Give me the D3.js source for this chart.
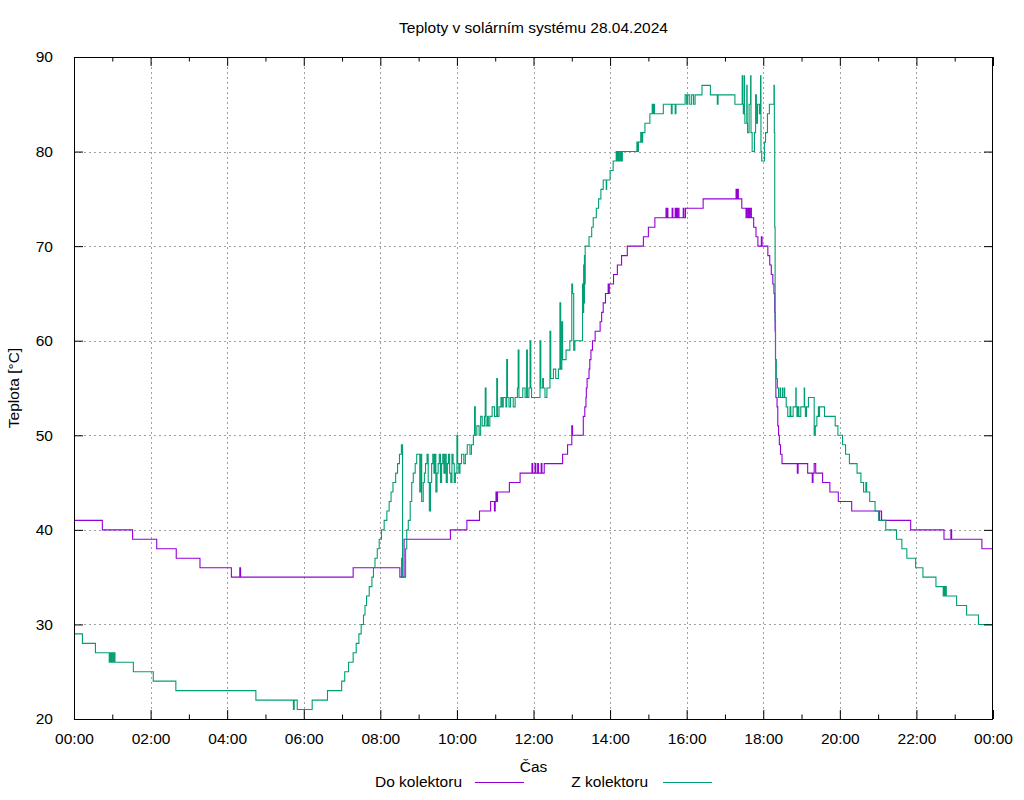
<!DOCTYPE html>
<html>
<head>
<meta charset="utf-8">
<script src="https://cdn.jsdelivr.net/npm/d3@7"></script>
<style>
  html, body { margin: 0; padding: 0; background: #fff; }
  svg text { font-family: "Liberation Sans", Arial, sans-serif; fill: #000; }
</style>
</head>
<body>
<svg id="chart" width="1024" height="800"></svg>
<script>
// ---- data ----
const chartTitle = "Teploty v solárním systému 28.04.2024";
const xLabel = "Čas";
const yLabel = "Teplota [°C]";
const seriesNames = ["Do kolektoru", "Z kolektoru"];
const yTicks = [20, 30, 40, 50, 60, 70, 80, 90];
const xTickHours = [0, 2, 4, 6, 8, 10, 12, 14, 16, 18, 20, 22, 24];
const xTickLabels = ["00:00","02:00","04:00","06:00","08:00","10:00","12:00","14:00","16:00","18:00","20:00","22:00","00:00"];

// "Do kolektoru": [hour, °C] – value holds until the next entry
const doData = [[0,41],[0.74,40],[1.53,39],[2.16,38],[2.67,37],[3.29,36],[4.11,35],[4.33,36],[4.35,35],[7.29,36],[8.51,35],[8.56,37],[8.57,35],[8.62,39],[9.83,40],[10.26,41],[10.59,42],[10.88,43],[10.98,42],[11.0,43],[11.02,44],[11.04,43],[11.06,44],[11.37,45],[11.65,46],[11.96,47],[11.98,46],[12.04,47],[12.06,46],[12.11,47],[12.13,46],[12.2,47],[12.22,46],[12.28,47],[12.76,48],[12.89,49],[13.0,51],[13.02,50],[13.3,52],[13.34,53],[13.37,54],[13.38,55],[13.4,56],[13.45,57],[13.47,58],[13.5,59],[13.54,60],[13.61,61],[13.74,62],[13.78,63],[13.82,64],[13.88,65],[13.95,66],[13.97,65],[13.98,66],[14.09,67],[14.19,68],[14.3,69],[14.45,70],[14.87,71],[15.0,72],[15.17,73],[15.46,74],[15.47,73],[15.5,74],[15.51,73],[15.62,74],[15.64,73],[15.7,74],[15.72,73],[15.74,74],[15.76,73],[15.79,74],[15.8,73],[15.91,74],[15.93,73],[15.97,74],[16.43,75],[17.29,76],[17.31,75],[17.33,76],[17.35,75],[17.44,74],[17.55,73],[17.57,74],[17.6,73],[17.62,74],[17.64,73],[17.66,74],[17.69,73],[17.75,72],[17.81,71],[17.86,70],[17.95,71],[17.97,70],[18.07,70],[18.12,69],[18.17,68],[18.21,67],[18.25,66],[18.28,65],[18.3,63],[18.31,61],[18.32,58],[18.33,54],[18.36,53],[18.38,51],[18.4,50],[18.42,49],[18.45,48],[18.49,47],[18.89,46],[18.91,47],[19.16,46],[19.28,45],[19.3,46],[19.33,47],[19.37,46],[19.55,45],[19.74,44],[19.96,43],[20.31,42],[21.02,41],[21.04,42],[21.09,41],[21.85,40],[22.72,39],[22.9,40],[22.92,39],[23.71,38],[24,38]];

// "Z kolektoru": [hour, °C]
const zData = [[0,29],[0.22,28],[0.56,27],[0.92,26],[0.94,27],[0.97,26],[0.99,27],[1.02,26],[1.04,27],[1.07,26],[1.55,25],[2.07,24],[2.66,23],[4.75,22],[5.73,21],[5.75,22],[5.83,21],[6.22,22],[6.62,23],[6.99,24],[7.07,25],[7.17,26],[7.29,27],[7.37,28],[7.44,29],[7.5,30],[7.56,31],[7.6,32],[7.64,33],[7.71,34],[7.78,35],[7.82,36],[7.86,37],[7.92,38],[7.97,39],[8.03,40],[8.1,41],[8.17,42],[8.23,43],[8.28,44],[8.33,45],[8.4,46],[8.45,47],[8.5,48],[8.55,49],[8.58,35],[8.66,38],[8.69,40],[8.73,41],[8.78,43],[8.82,45],[8.86,46],[8.91,47],[8.95,48],
  [9.0,48],[9.03,44],[9.06,48],[9.08,43],[9.12,45],[9.15,46],[9.18,47],[9.22,48],[9.25,45],[9.28,42],[9.31,45],[9.34,47],[9.37,48],[9.4,46],[9.42,48],[9.45,44],[9.48,46],[9.51,47],[9.54,48],[9.57,45],[9.6,47],[9.63,48],[9.66,46],[9.69,48],[9.72,45],[9.75,47],[9.78,48],[9.81,46],[9.84,45],[9.87,48],[9.9,47],[9.93,45],[9.96,46],
  [10.0,50],[10.02,47],[10.05,46],[10.08,47],[10.12,48],[10.18,47],[10.22,48],[10.27,49],[10.34,48],[10.38,49],[10.43,50],[10.46,53],[10.48,50],[10.52,51],[10.58,50],[10.62,52],[10.66,51],[10.72,52],[10.74,55],[10.76,51],[10.8,52],[10.82,51],[10.86,52],[10.92,53],[10.98,52],[11.04,56],[11.06,52],[11.1,53],[11.15,54],[11.18,53],[11.21,54],[11.28,53],[11.3,58],[11.32,54],[11.36,53],[11.4,54],[11.47,53],[11.52,54],[11.58,55],[11.6,59],[11.62,54],[11.72,55],[11.78,54],[11.82,59],[11.84,54],[11.88,55],[11.91,60],[11.93,55],[11.95,54],[12.17,60],[12.19,55],[12.24,56],[12.26,55],[12.3,54],[12.35,55],[12.43,61],[12.45,56],[12.52,57],[12.58,56],[12.65,57],[12.69,64],[12.71,57],[12.74,62],[12.76,58],[12.85,59],[12.95,60],[13.0,66],[13.02,65],[13.05,59],[13.08,60],[13.28,66],[13.29,63],[13.31,68],[13.32,64],[13.33,69],[13.34,66],
  [13.35,70],[13.45,71],[13.52,72],[13.56,73],[13.64,74],[13.7,75],[13.76,76],[13.82,77],[13.9,76],[13.91,77],[14.0,78],[14.08,79],[14.16,80],[14.18,79],[14.2,80],[14.22,79],[14.24,80],[14.27,79],[14.29,80],[14.3,79],[14.32,80],[14.7,81],[14.72,80],[14.74,81],[14.8,82],[14.83,81],[14.85,82],[14.91,83],[15.04,84],[15.1,85],[15.12,84],[15.14,85],[15.16,84],[15.39,85],[15.6,84],[15.62,85],[15.7,84],[15.72,85],[15.96,86],[16.0,85],[16.03,86],[16.08,85],[16.13,86],[16.18,85],[16.22,86],[16.4,87],[16.62,86],[16.8,85],[16.82,86],[17.26,85],
  [17.45,88],[17.46,85],[17.48,84],[17.5,88],[17.51,84],[17.52,83],[17.57,87],[17.58,83],[17.59,82],[17.63,85],[17.67,88],[17.68,82],[17.71,80],[17.77,82],[17.8,86],[17.82,83],[17.85,85],[17.9,84],[17.93,88],[17.94,80],[17.96,79],[18.03,81],[18.06,82],[18.11,84],[18.16,85],[18.28,87],[18.29,82],[18.3,72],[18.31,62],[18.32,58],[18.34,56],[18.37,55],[18.4,54],[18.44,55],[18.45,54],[18.5,55],[18.51,54],[18.55,55],[18.56,54],[18.6,53],[18.64,52],[18.7,53],[18.72,52],[18.78,53],[18.85,55],[18.86,53],[18.88,52],[18.9,53],[18.93,52],[18.98,53],[19.07,55],[19.08,53],[19.1,52],[19.13,53],[19.18,54],[19.33,50],[19.36,51],[19.4,52],[19.44,53],[19.46,52],[19.47,53],[19.6,52],[19.88,51],[19.95,50],[20.07,49],[20.15,48],[20.25,47],[20.45,46],[20.55,45],[20.62,44],[20.68,45],[20.7,44],[20.78,43],[20.92,42],[21.02,41],[21.2,40],[21.48,39],[21.62,38],[21.75,37],[21.98,36],[22.17,35],[22.51,34],[22.7,33],[22.72,34],[22.74,33],[22.76,34],[22.78,33],[23.05,32],[23.31,31],[23.62,30],[24,30]];

const series = [
  { name: seriesNames[0], color: "#9400d3", pts: doData },
  { name: seriesNames[1], color: "#009e73", pts: zData }
];

// ---- layout ----
const svg = d3.select("#chart");
const L = 74, R = 993, T = 57, B = 719;
const x = d3.scaleLinear().domain([0, 24]).range([L, R]);
const y = d3.scaleLinear().domain([20, 90]).range([B, T]);
const font = 15.5;

// grid
const grid = svg.append("g").attr("stroke", "#a0a0a0").attr("stroke-width", 1).attr("stroke-dasharray", "2,3").attr("shape-rendering", "crispEdges");
xTickHours.filter(h => h > 0 && h < 24).forEach(h => {
  grid.append("line").attr("x1", Math.round(x(h)) + 0.5).attr("x2", Math.round(x(h)) + 0.5).attr("y1", T).attr("y2", B);
});
yTicks.filter(v => v > 20 && v < 90).forEach(v => {
  grid.append("line").attr("y1", Math.round(y(v)) + 0.5).attr("y2", Math.round(y(v)) + 0.5).attr("x1", L).attr("x2", R);
});

// data
svg.append("defs").append("clipPath").attr("id", "clip").append("rect").attr("x", L).attr("y", T - 1).attr("width", R - L).attr("height", B - T + 2);
const line = d3.line().x(d => x(d[0])).y(d => y(d[1])).curve(d3.curveStepAfter);
series.forEach(s => {
  svg.append("path").attr("d", line(s.pts)).attr("fill", "none").attr("stroke", s.color).attr("stroke-width", 1.1).attr("clip-path", "url(#clip)");
});

// axes (ticks on all four sides, pointing inward)
const minorHours = d3.range(1, 24, 2);
const axB = d3.axisBottom(x).tickValues(xTickHours).tickSize(9).tickFormat((d, i) => xTickLabels[i]);
const axT = d3.axisTop(x).tickValues(xTickHours).tickSize(9).tickFormat("");
const axL = d3.axisLeft(y).tickValues(yTicks).tickSize(9).tickPadding(12);
const axR = d3.axisRight(y).tickValues(yTicks).tickSize(9).tickFormat("");

function styleAxis(g) {
  g.select(".domain").remove();
  g.selectAll(".tick line").attr("stroke", "#000").attr("stroke-width", 1);
  g.selectAll(".tick text").attr("font-size", font).attr("font-family", "Liberation Sans, Arial, sans-serif").attr("fill", "#000");
}
const gB = svg.append("g").attr("transform", `translate(0,${B})`).call(axB);
styleAxis(gB);
gB.selectAll(".tick line").attr("y2", -9);
gB.selectAll(".tick text").attr("y", 14).attr("dy", "0.71em");
const gT = svg.append("g").attr("transform", `translate(0,${T})`).call(axT);
styleAxis(gT);
gT.selectAll(".tick line").attr("y2", 9);
const gL = svg.append("g").attr("transform", `translate(${L},0)`).call(axL);
styleAxis(gL);
gL.selectAll(".tick line").attr("x2", 9);
const gR = svg.append("g").attr("transform", `translate(${R},0)`).call(axR);
styleAxis(gR);
gR.selectAll(".tick line").attr("x2", -9);

// minor ticks (bottom & top)
const mB = d3.axisBottom(x).tickValues(minorHours).tickSize(4.5).tickFormat("");
const mT = d3.axisTop(x).tickValues(minorHours).tickSize(4.5).tickFormat("");
const gmB = svg.append("g").attr("transform", `translate(0,${B})`).call(mB);
gmB.select(".domain").remove();
gmB.selectAll(".tick line").attr("stroke", "#000").attr("y2", -4.5);
const gmT = svg.append("g").attr("transform", `translate(0,${T})`).call(mT);
gmT.select(".domain").remove();
gmT.selectAll(".tick line").attr("stroke", "#000").attr("y2", 4.5);

// border
svg.append("rect").attr("x", L + 0.5).attr("y", T + 0.5).attr("width", R - L - 1).attr("height", B - T).attr("fill", "none").attr("stroke", "#000").attr("stroke-width", 1).attr("shape-rendering", "crispEdges");

// titles
svg.append("text").attr("x", (L + R) / 2).attr("y", 33).attr("text-anchor", "middle").attr("font-size", font).text(chartTitle);
svg.append("text").attr("x", (L + R) / 2).attr("y", 772).attr("text-anchor", "middle").attr("font-size", font).text(xLabel);
svg.append("text").attr("transform", `translate(19,${(T + B) / 2}) rotate(-90)`).attr("text-anchor", "middle").attr("font-size", font).text(yLabel);

// legend
const legendTextRight = [462, 648];
const legendLineX = [[475, 524], [663, 712]];
series.forEach((s, i) => {
  svg.append("text").attr("x", legendTextRight[i]).attr("y", 787).attr("text-anchor", "end").attr("font-size", font).text(s.name);
  svg.append("line").attr("x1", legendLineX[i][0]).attr("x2", legendLineX[i][1]).attr("y1", 782.5).attr("y2", 782.5).attr("stroke", s.color).attr("stroke-width", 1.1);
});
</script>
</body>
</html>
